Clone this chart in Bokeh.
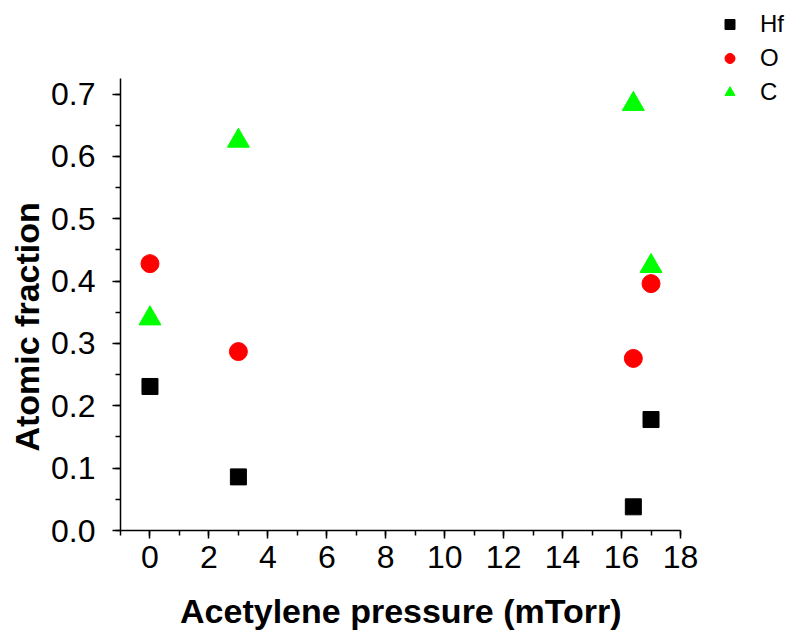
from bokeh.plotting import figure
from bokeh.models import Range1d, SingleIntervalTicker, Legend, LegendItem, NumeralTickFormatter
from bokeh.embed import file_html
from bokeh.resources import INLINE

# Atomic composition vs. acetylene partial pressure
pressure = [0, 3, 16.4, 17]
hf_fraction = [0.231, 0.086, 0.038, 0.178]
o_fraction = [0.428, 0.287, 0.276, 0.396]
c_fraction = [0.340, 0.625, 0.684, 0.424]

x_span = (-1, 18)      # drawn extent of the x axis
y_span = (0, 0.725)    # drawn extent of the y axis

FONT = "Liberation Sans"
NBSP = "\u00a0"

# The frame reaches the top and right edges so the legend can sit up there;
# the axes themselves are limited to x_span / y_span through their bounds.
FRAME_LEFT, FRAME_BOTTOM = 120, 104
W, H = 794, 634
px_per_x = 560 / (x_span[1] - x_span[0])
px_per_y = 452 / (y_span[1] - y_span[0])
x_end = x_span[0] + (W - FRAME_LEFT) / px_per_x
y_end = y_span[0] + (H - FRAME_BOTTOM) / px_per_y

p = figure(
    width=W, height=H,
    x_range=Range1d(x_span[0], x_end), y_range=Range1d(y_span[0], y_end),
    output_backend="svg", toolbar_location=None,
    min_border_left=FRAME_LEFT, min_border_right=0,
    min_border_top=0, min_border_bottom=FRAME_BOTTOM,
)
p.outline_line_color = None
p.xgrid.visible = False
p.ygrid.visible = False
p.background_fill_color = "white"
p.border_fill_color = "white"

r_hf = p.scatter(pressure, hf_fraction, marker="square", size=16,
                 fill_color="black", line_color="black")
r_o = p.scatter(pressure, o_fraction, marker="circle", size=18,
                fill_color="red", line_color="red")
r_c = p.scatter(pressure, c_fraction, marker="triangle", size=22,
                fill_color="#00FF00", line_color="#00FF00")

# axes
p.xaxis.ticker = SingleIntervalTicker(interval=2, num_minor_ticks=2)
p.yaxis.ticker = SingleIntervalTicker(interval=0.1, num_minor_ticks=2)
p.yaxis.formatter = NumeralTickFormatter(format="0.0")
p.xaxis.bounds = x_span
p.yaxis.bounds = y_span

for ax in (p.xaxis[0], p.yaxis[0]):
    ax.axis_line_color = "black"
    ax.axis_line_width = 1.5
    ax.major_tick_line_color = "black"
    ax.major_tick_line_width = 1.5
    ax.minor_tick_line_color = "black"
    ax.minor_tick_line_width = 1.5
    ax.major_tick_out = 8
    ax.major_tick_in = 0
    ax.minor_tick_out = 5
    ax.minor_tick_in = 0
    ax.major_label_text_font = FONT
    ax.major_label_text_font_size = "32px"
    ax.major_label_text_color = "black"
    ax.axis_label_text_font = FONT
    ax.axis_label_text_font_size = "34px"
    ax.axis_label_text_font_style = "bold"
    ax.axis_label_text_color = "black"

# trailing no-break spaces re-centre the titles on the drawn axes
p.xaxis.axis_label = "Acetylene pressure (mTorr)" + NBSP * 12
p.yaxis.axis_label = "Atomic fraction" + NBSP * 13
p.xaxis.major_label_standoff = 7
p.yaxis.major_label_standoff = 17
p.xaxis.axis_label_standoff = 21
p.yaxis.axis_label_standoff = 2

legend = Legend(
    items=[
        LegendItem(label="Hf", renderers=[r_hf]),
        LegendItem(label="O", renderers=[r_o]),
        LegendItem(label="C", renderers=[r_c]),
    ],
    location=(597, 423),
    padding=0, margin=0, spacing=4,
    glyph_width=25, glyph_height=30, label_height=30,
    label_standoff=18,
    label_text_font=FONT, label_text_font_size="24px", label_text_color="black",
    border_line_color=None, background_fill_alpha=0,
)
p.add_layout(legend, "center")

open("out.html", "w").write(file_html(p, INLINE))
